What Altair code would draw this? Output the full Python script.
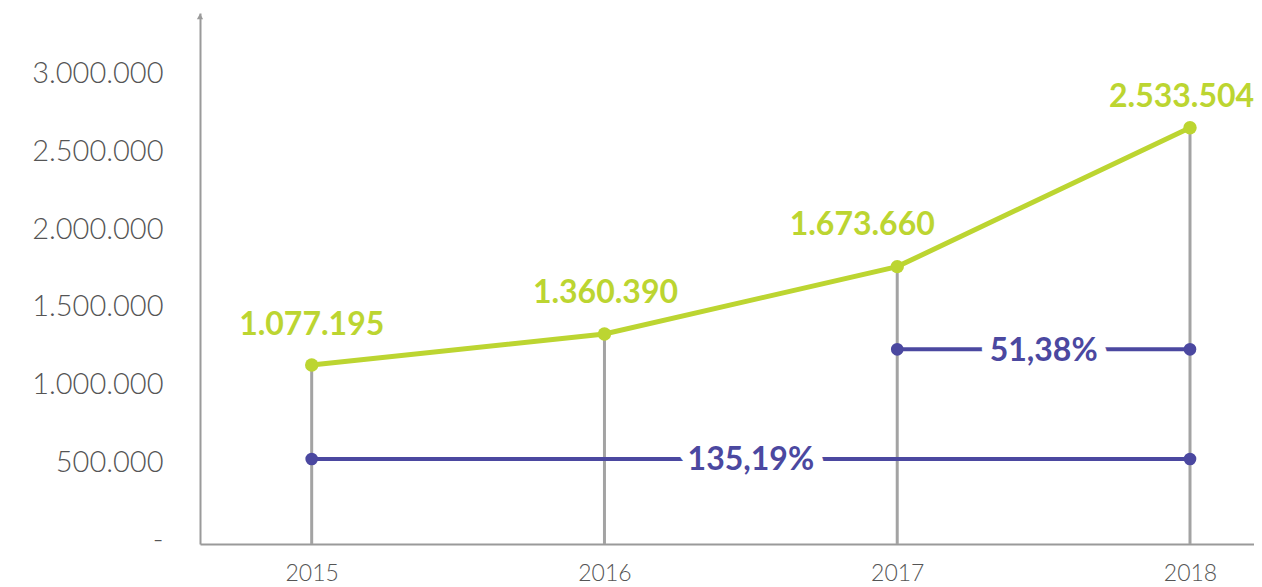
import altair as alt
import pandas as pd

# ---- data ----
years = [2015, 2016, 2017, 2018]
values = [1112000, 1312000, 1746000, 2641000]          # plotted heights
value_labels = ["1.077.195", "1.360.390", "1.673.660", "2.533.504"]

growth_start = [2015, 2017]
growth_end = [2018, 2018]
growth_level = [507000, 1213500]
growth_labels = ["135,19%", "51,38%"]

y_ticks = [0, 500000, 1000000, 1500000, 2000000, 2500000, 3000000]
y_tick_labels = ["-", "500.000", "1.000.000", "1.500.000", "2.000.000", "2.500.000", "3.000.000"]
x_tick_labels = ["2015", "2016", "2017", "2018"]

# ---- styling ----
GREEN = "#bcd531"
PURPLE = "#4b48a0"
GRAY = "#a3a3a3"
AXIS_GRAY = "#9a9a9a"
TEXT_GRAY = "#555555"
FONT = "Lato"

X_MIN, X_MAX = 2014.6185, 2018.2186
Y_MIN, Y_MAX = -40600, 3379700

xs = alt.Scale(domain=[X_MIN, X_MAX], nice=False, zero=False)
ys = alt.Scale(domain=[Y_MIN, Y_MAX], nice=False, zero=False)


def build_expr(vals, labels):
    parts = [f"datum.value == {v} ? '{l}'" for v, l in zip(vals, labels)]
    return " : ".join(parts) + " : ''"


x_axis = alt.Axis(
    values=years, labelExpr=build_expr(years, x_tick_labels), grid=False,
    ticks=False, tickSize=0, labelPadding=18, labelFont=FONT, labelFontSize=23,
    labelColor=TEXT_GRAY, domainColor=AXIS_GRAY, domainWidth=2, title=None,
    labelFontWeight=300,
)
y_axis = alt.Axis(
    values=y_ticks, labelExpr=build_expr(y_ticks, y_tick_labels), grid=False,
    ticks=False, tickSize=0, labelPadding=37, labelFont=FONT, labelFontSize=29,
    labelColor=TEXT_GRAY, domainColor=AXIS_GRAY, domainWidth=2, title=None,
    labelOffset=2, labelFontWeight=300,
)

main = pd.DataFrame({"year": years, "value": values, "label": value_labels})
growth = pd.DataFrame({
    "start": growth_start, "end": growth_end, "level": growth_level,
    "label": growth_labels,
    "mid": [(s + e) / 2 for s, e in zip(growth_start, growth_end)],
})
growth_pts = pd.DataFrame({
    "year": growth_start + growth_end,
    "level": growth_level + growth_level,
})

base = alt.Chart(main)

rules = base.mark_rule(color=GRAY, strokeWidth=3).encode(
    x=alt.X("year:Q", scale=xs, axis=x_axis),
    y=alt.Y("value:Q", scale=ys, axis=y_axis),
    y2=alt.datum(Y_MIN),
)

line = base.mark_line(color=GREEN, strokeWidth=5).encode(
    x=alt.X("year:Q", scale=xs), y=alt.Y("value:Q", scale=ys)
)
pts = base.mark_circle(color=GREEN, size=180, opacity=1).encode(
    x=alt.X("year:Q", scale=xs), y=alt.Y("value:Q", scale=ys)
)

g = alt.Chart(growth)
g_rule = g.mark_rule(color=PURPLE, strokeWidth=4).encode(
    x=alt.X("start:Q", scale=xs), x2="end:Q", y=alt.Y("level:Q", scale=ys)
)
g_pts = alt.Chart(growth_pts).mark_circle(color=PURPLE, size=160, opacity=1).encode(
    x=alt.X("year:Q", scale=xs), y=alt.Y("level:Q", scale=ys)
)
g_halo = g.mark_text(
    font=FONT, fontSize=32, fontWeight="bold", color="white", stroke="white",
    strokeWidth=21, strokeJoin="round", baseline="alphabetic", dy=11.5,
).encode(x=alt.X("mid:Q", scale=xs), y=alt.Y("level:Q", scale=ys), text="label:N")
g_text = g.mark_text(
    font=FONT, fontSize=32, fontWeight="bold", color=PURPLE,
    baseline="alphabetic", dy=11.5,
).encode(x=alt.X("mid:Q", scale=xs), y=alt.Y("level:Q", scale=ys), text="label:N")

label_styles = [
    dict(align="center", dx=0, dy=-30),
    dict(align="center", dx=1, dy=-31.5),
    dict(align="center", dx=-35, dy=-32),
    dict(align="left", dx=-81, dy=-21),
]
label_layers = []
for i, st in enumerate(label_styles):
    label_layers.append(
        alt.Chart(main.iloc[[i]]).mark_text(
            font=FONT, fontSize=32, fontWeight="bold", color=GREEN,
            baseline="alphabetic", **st,
        ).encode(x=alt.X("year:Q", scale=xs), y=alt.Y("value:Q", scale=ys), text="label:N")
    )

arrow = alt.Chart(main.iloc[[0]]).mark_point(
    shape="triangle-up", filled=True, size=40, color=AXIS_GRAY, opacity=1, yOffset=3.5
).encode(x=alt.datum(X_MIN), y=alt.datum(Y_MAX))

chart = alt.layer(
    rules, line, pts, g_rule, g_pts, g_halo, g_text, *label_layers, arrow
).properties(
    width=1054, height=531,
    autosize=alt.AutoSizeParams(type="none"),
    padding={"left": 192, "top": 5, "right": 0, "bottom": 42},
    background="white",
).configure_view(stroke=None)

chart.save("out.html", embed_options={"renderer": "svg", "actions": False})
